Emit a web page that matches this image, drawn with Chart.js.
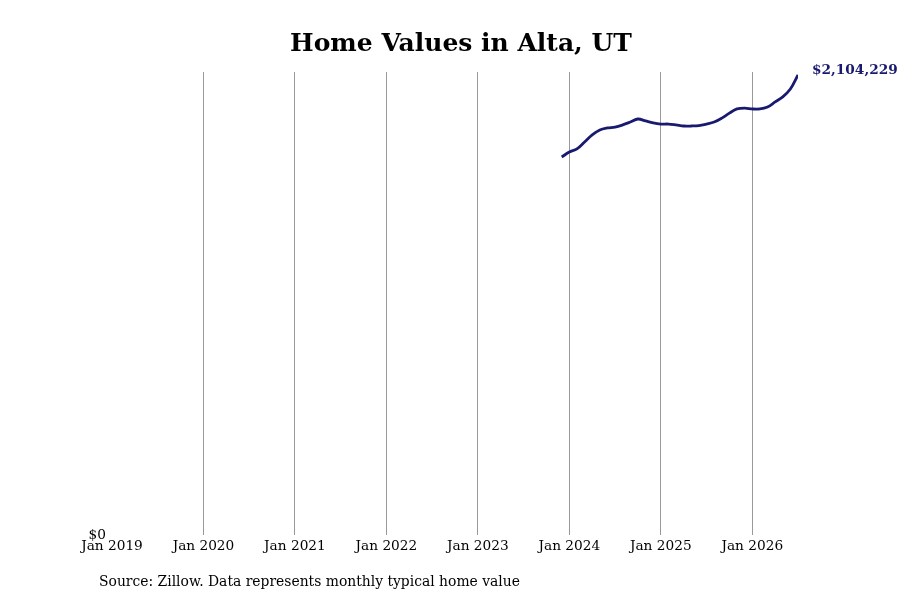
<!DOCTYPE html>
<html>
<head>
<meta charset="utf-8">
<script src="https://cdn.jsdelivr.net/npm/chart.js@4"></script>
<style>
  html, body { margin: 0; padding: 0; background: #fff; }
  #wrap { width: 900px; height: 600px; position: relative; }
</style>
</head>
<body>
<div id="wrap"><canvas id="myChart"></canvas></div>
<script>
// data (monthly typical home value)
var months = [
  "2023-12", "2024-01", "2024-02", "2024-03", "2024-04", "2024-05", "2024-06",
  "2024-07", "2024-08", "2024-09", "2024-10", "2024-11", "2024-12",
  "2025-01", "2025-02", "2025-03", "2025-04", "2025-05", "2025-06",
  "2025-07", "2025-08", "2025-09", "2025-10", "2025-11", "2025-12",
  "2026-01", "2026-02", "2026-03", "2026-04", "2026-05", "2026-06", "2026-07"
];
var homeValues = [
  1729000, 1752000, 1766000, 1798000, 1830000, 1853000, 1862000,
  1866000, 1876000, 1889000, 1903000, 1894000, 1885000,
  1880000, 1880000, 1876000, 1871000, 1871000, 1873000,
  1880000, 1889000, 1907000, 1930000, 1949000, 1953000,
  1949000, 1949000, 1958000, 1981000, 2004000, 2040000, 2104229
];
var tickLabels = ["Jan 2019", "Jan 2020", "Jan 2021", "Jan 2022", "Jan 2023", "Jan 2024", "Jan 2025", "Jan 2026"];

var FONT = "'DejaVu Serif', serif";
var LINE = "#191970";

// months since Jan 2019
function monthIndex(s) {
  var p = s.split("-");
  return (parseInt(p[0], 10) - 2019) * 12 + (parseInt(p[1], 10) - 1);
}

var points = months.map(function (m, i) {
  return { x: monthIndex(m), y: homeValues[i] };
});

function money(v) {
  return "$" + Math.round(v).toLocaleString("en-US");
}

// title, source note and end label
var textPlugin = {
  id: "texts",
  afterDraw: function (chart) {
    var c = chart.ctx;
    c.save();
    c.fillStyle = "#000";
    c.font = "bold 25px " + FONT;
    c.textAlign = "center";
    c.textBaseline = "middle";
    c.fillText("Home Values in Alta, UT", 461, 44);

    c.font = "13.9px " + FONT;
    c.textAlign = "left";
    c.fillText("Source: Zillow. Data represents monthly typical home value", 99, 582);

    var meta = chart.getDatasetMeta(0);
    var last = meta.data[meta.data.length - 1];
    c.fillStyle = LINE;
    c.font = "bold 13.7px " + FONT;
    c.textBaseline = "middle";
    c.fillText(money(homeValues[homeValues.length - 1]), last.x + 14, last.y - 5);
    c.restore();
  }
};

var ctx = document.getElementById("myChart");
var chart = new Chart(ctx, {
  type: "line",
  data: {
    datasets: [
      {
        data: points,
        borderColor: LINE,
        borderWidth: 2.8,
        pointRadius: 0,
        tension: 0.35,
        fill: false
      }
    ]
  },
  options: {
    responsive: true,
    maintainAspectRatio: false,
    animation: false,
    layout: { padding: { top: 72, right: 102, bottom: 45, left: 72 } },
    plugins: {
      legend: { display: false },
      tooltip: { enabled: false }
    },
    scales: {
      x: {
        type: "linear",
        min: 0,
        max: 90,
        border: { display: false },
        afterFit: function (scale) { scale.height = 20; },
        afterBuildTicks: function (scale) {
          scale.ticks = tickLabels.map(function (t, i) { return { value: i * 12 }; });
        },
        grid: {
          drawTicks: false,
          lineWidth: 1,
          color: function (c) { return c.index === 0 ? "rgba(0,0,0,0)" : "#999999"; }
        },
        ticks: {
          padding: 3,
          maxRotation: 0,
          autoSkip: false,
          color: "#000",
          font: { family: FONT, size: 13.7 },
          callback: function (v) { return tickLabels[Math.round(v / 12)]; }
        }
      },
      y: {
        min: 0,
        max: 2118000,
        border: { display: false },
        afterFit: function (scale) { scale.width = 40; },
        afterBuildTicks: function (scale) { scale.ticks = [{ value: 0 }]; },
        grid: { display: false, drawTicks: false },
        ticks: {
          padding: 6,
          color: "#000",
          font: { family: FONT, size: 13.7 },
          callback: function (v) { return money(v); }
        }
      }
    }
  },
  plugins: [textPlugin]
});
</script>
</body>
</html>
